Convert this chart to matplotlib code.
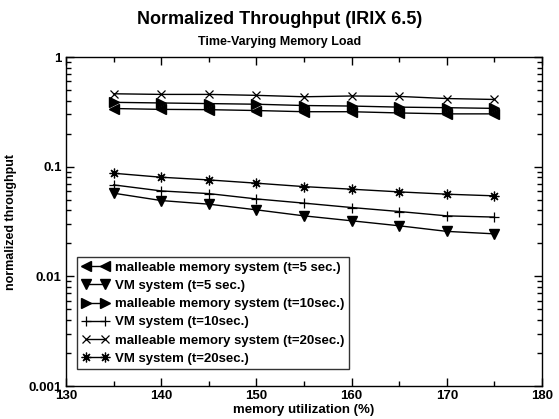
import matplotlib
matplotlib.use("Agg")
import matplotlib.pyplot as plt
from matplotlib.ticker import FixedLocator, LogLocator, FuncFormatter, NullFormatter

plt.rcParams["font.family"] = ["Liberation Sans", "DejaVu Sans"]
plt.rcParams["font.weight"] = "bold"

# memory utilization (%)
mem_util = [135, 140, 145, 150, 155, 160, 165, 170, 175]

# normalized throughput
malleable_t5 = [0.339, 0.333, 0.331, 0.325, 0.317, 0.317, 0.309, 0.303, 0.303]
vm_t5 = [0.0573, 0.0491, 0.0455, 0.0404, 0.0356, 0.0321, 0.0289, 0.0257, 0.0244]
malleable_t10 = [0.386, 0.381, 0.376, 0.371, 0.361, 0.357, 0.349, 0.345, 0.340]
vm_t10 = [0.0682, 0.0601, 0.0568, 0.0508, 0.0465, 0.0424, 0.0390, 0.0356, 0.0347]
malleable_t20 = [0.462, 0.456, 0.456, 0.447, 0.434, 0.441, 0.437, 0.418, 0.410]
vm_t20 = [0.0871, 0.0801, 0.0757, 0.0707, 0.0658, 0.0623, 0.0589, 0.0561, 0.0542]

labels = [
    "malleable memory system (t=5 sec.)",
    "VM system (t=5 sec.)",
    "malleable memory system (t=10sec.)",
    "VM system (t=10sec.)",
    "malleable memory system (t=20sec.)",
    "VM system (t=20sec.)",
]

fig = plt.figure(figsize=(5.59, 4.19), dpi=100)
ax = fig.add_axes([66 / 559, 1 - 386 / 419, 476 / 559, 329 / 419])

series = [
    (malleable_t5, "<", 7.5, 1.0),
    (vm_t5, "v", 7.5, 1.0),
    (malleable_t10, ">", 7.5, 1.0),
    (vm_t10, "+", 7.5, 0.9),
    (malleable_t20, "x", 5.5, 0.9),
    (vm_t20, (8, 2, 0), 7, 0.9),
]
for vals, mk, ms, mew in series:
    ax.plot(mem_util, vals, color="black", linewidth=1.0, marker=mk,
            markersize=ms, markeredgewidth=mew, markerfacecolor="black",
            markeredgecolor="black")

ax.set_yscale("log")
ax.set_xlim(130, 180)
ax.set_ylim(0.001, 1)

ax.xaxis.set_major_locator(FixedLocator([130, 140, 150, 160, 170, 180]))
ax.xaxis.set_minor_locator(FixedLocator([135, 145, 155, 165, 175]))
ax.yaxis.set_major_locator(FixedLocator([0.001, 0.01, 0.1, 1]))
ax.yaxis.set_major_formatter(FuncFormatter(lambda v, p: "%g" % v))
ax.yaxis.set_minor_locator(LogLocator(base=10, subs=range(2, 10)))
ax.yaxis.set_minor_formatter(NullFormatter())

ax.tick_params(which="both", direction="in", top=True, right=True,
               labelsize=9.5, width=1.0)
ax.tick_params(which="major", length=6, pad=3)
ax.tick_params(which="minor", length=3.5)
for lab in ax.get_xticklabels() + ax.get_yticklabels():
    lab.set_fontweight("bold")
for sp in ax.spines.values():
    sp.set_linewidth(1.0)

ax.set_xlabel("memory utilization (%)", fontsize=9.5, fontweight="bold", labelpad=1)
ax.set_ylabel("normalized throughput", fontsize=9, fontweight="bold", labelpad=8)

fig.text(0.5, 1 - 24 / 419, "Normalized Throughput (IRIX 6.5)", ha="center",
         va="baseline", fontsize=13, fontweight="bold")
fig.text(0.5, 1 - 45 / 419, "Time-Varying Memory Load", ha="center",
         va="baseline", fontsize=9, fontweight="bold")

leg = ax.legend(labels, loc="upper left", bbox_to_anchor=(11 / 476, (386 - 257) / 329),
                borderaxespad=0, numpoints=2, handlelength=2.1, handletextpad=0.4,
                labelspacing=0.45, borderpad=0.35, fancybox=False,
                prop={"size": 9.5, "weight": "bold"})
leg.get_frame().set_edgecolor("black")
leg.get_frame().set_linewidth(1.0)

fig.savefig("out.png", dpi=100)
